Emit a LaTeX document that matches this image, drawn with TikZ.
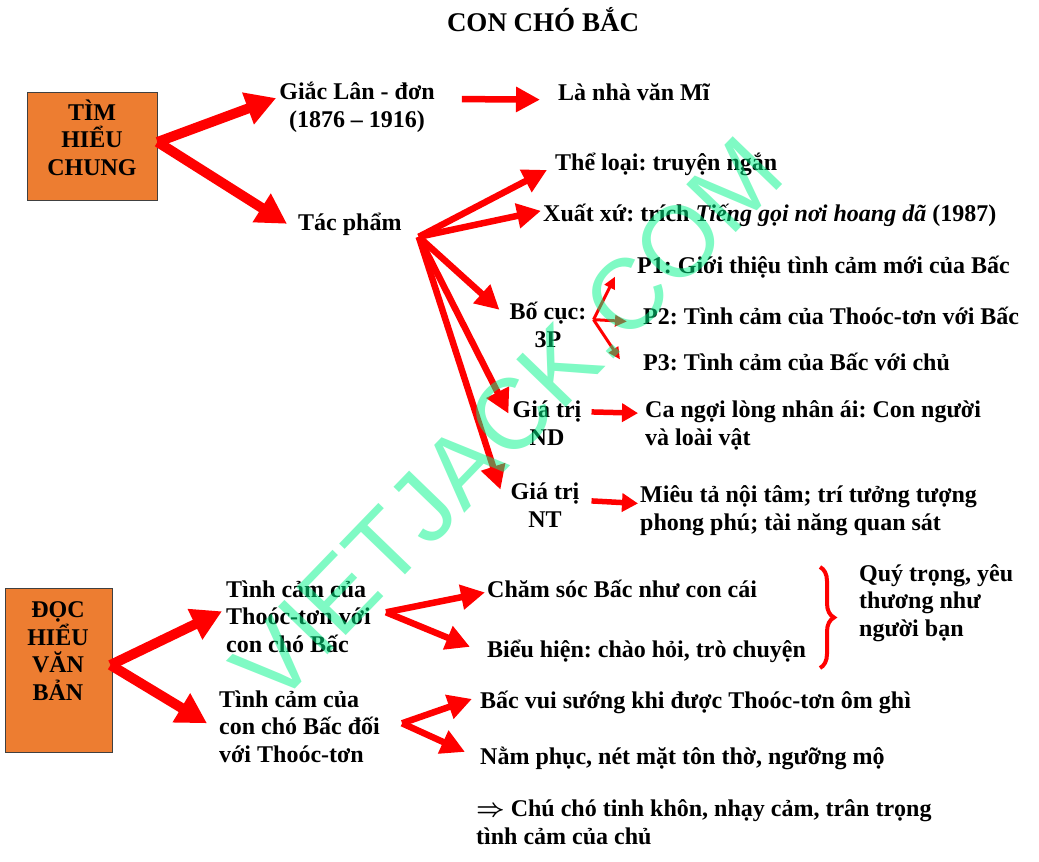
\documentclass[tikz,border=0pt]{standalone}
\usepackage{fontspec}
\setmainfont{Liberation Serif}
\setsansfont{Liberation Sans}
\usetikzlibrary{arrows.meta, decorations.pathreplacing}

\definecolor{boxorange}{RGB}{237,125,49}
\definecolor{arrred}{RGB}{255,0,0}
\definecolor{wmgreen}{RGB}{0,245,137}
\frenchspacing

\begin{document}
\begin{tikzpicture}[x=1pt, y=-1pt,
  txt/.style={inner sep=0pt, font=\bfseries\fontsize{24}{27.5}\selectfont},
  lt/.style={txt, anchor=base west, align=left},
  ct/.style={txt, anchor=base, align=center},
  sect/.style={rectangle, draw=black!75, line width=1pt, fill=boxorange},
  bigarr/.style={draw=arrred, line width=10pt, -{Triangle[length=30pt,width=32pt]}},
  midarr/.style={draw=arrred, line width=6.5pt, -{Triangle[length=24pt,width=24pt]}},
  shortarr/.style={draw=arrred, line width=5.5pt, -{Triangle[length=16pt,width=18pt]}},
  tinyarr/.style={draw=arrred, line width=3pt, -{Triangle[length=12pt,width=11pt]}}]
\useasboundingbox (0,0) rectangle (1039,862);

\node[ct, font=\bfseries\fontsize{27}{30}\selectfont] (title) at (543,31) {CON CHÓ BẮC};

% TÌM HIỂU CHUNG (multi-line nodes sit on their last baseline)
\node[sect, minimum width=130pt, minimum height=108pt] (tim) at (92,146) {};
\node[ct] (timtxt) at (92,175) {TÌM\\HIỂU\\CHUNG};
\node[ct] (giac) at (357,127) {Giắc Lân - đơn\\(1876 – 1916)};
\node[lt] (lanv) at (558,100) {Là nhà văn Mĩ};
\node[lt] (tacp) at (298,230) {Tác phẩm};
\node[lt] (theloai) at (555,170) {Thể loại: truyện ngắn};
\node[lt] (xuatxu) at (543,221) {Xuất xứ: trích \textit{Tiếng gọi nơi hoang dã} (1987)};
\node[ct] (bocuc) at (548,347) {Bố cục:\\3P};
\node[lt] (p1) at (637,273) {P1: Giới thiệu tình cảm mới của Bấc};
\node[lt] (p2) at (643,324) {P2: Tình cảm của Thoóc-tơn với Bấc};
\node[lt] (p3) at (643,370) {P3: Tình cảm của Bấc với chủ};
\node[ct] (gtnd) at (547,445) {Giá trị\\ND};
\node[lt] (cangoi) at (645,445) {Ca ngợi lòng nhân ái: Con người\\và loài vật};
\node[ct] (gtnt) at (545,527) {Giá trị\\NT};
\node[lt] (mieuta) at (640,530) {Miêu tả nội tâm; trí tưởng tượng\\phong phú; tài năng quan sát};

% arrows, upper part
\draw[bigarr] ([yshift=4pt]tim.east) -- ([xshift=-3pt,yshift=9pt]giac.west);
\draw[bigarr] ([yshift=4pt]tim.east) -- ([xshift=-11pt]tacp.west);
\draw[midarr] ([xshift=27pt,yshift=8pt]giac.east) -- ([xshift=-18pt,yshift=-8pt]lanv.west);
\coordinate (tpfan) at ([xshift=17pt,yshift=-13pt]tacp.east);
\draw[midarr] (tpfan) -- ([xshift=-8pt,yshift=-6pt]theloai.west);
\draw[midarr] (tpfan) -- ([xshift=-2pt,yshift=4pt]xuatxu.west);
\draw[midarr] (tpfan) -- ([xshift=-10pt,yshift=-8pt]bocuc.north west);
\draw[midarr] (tpfan) -- ([xshift=-4pt,yshift=-13pt]gtnd.north west);
\draw[midarr] (tpfan) -- ([xshift=-10pt,yshift=-7pt]gtnt.north west);
\coordinate (bcfan) at ([xshift=7pt,yshift=5pt]bocuc.east);
\draw[tinyarr] (bcfan) -- ([xshift=-22pt,yshift=-10pt]p1.west);
\draw[tinyarr] (bcfan) -- ([xshift=-16pt,yshift=-6pt]p2.west);
\draw[tinyarr] (bcfan) -- ([xshift=-23pt,yshift=2pt]p3.west);
\draw[shortarr] ([xshift=10pt,yshift=11pt]gtnd.east) -- ([xshift=-7pt,yshift=12pt]cangoi.west);
\draw[shortarr] ([xshift=12pt,yshift=4pt]gtnt.east) -- ([xshift=-2pt,yshift=7pt]mieuta.west);

% ĐỌC HIỂU VĂN BẢN
\node[sect, minimum width=107pt, minimum height=164pt] (doc) at (58.5,670) {};
\node[ct] (doctxt) at (58,700) {ĐỌC\\HIỂU\\VĂN\\BẢN};
\node[lt] (tc1) at (226,652) {Tình cảm của\\Thoóc-tơn với\\con chó Bấc};
\node[lt] (tc2) at (219,762) {Tình cảm của\\con chó Bấc đối\\với Thoóc-tơn};
\node[lt] (chamsoc) at (487,597) {Chăm sóc Bấc như con cái};
\node[lt] (bieuhien) at (487,657) {Biểu hiện: chào hỏi, trò chuyện};
\node[lt] (quy) at (859,636) {Quý trọng, yêu\\thương như\\người bạn};
\node[lt] (vui) at (480,708) {Bấc vui sướng khi được Thoóc-tơn ôm ghì};
\node[lt] (namphuc) at (480,764) {Nằm phục, nét mặt tôn thờ, ngưỡng mộ};
\node[lt] (ketluan) at (476,844) {{\boldmath$\Rightarrow$} Chú chó tinh khôn, nhạy cảm, trân trọng\\tình cảm của chủ};

% arrows, lower part
\draw[bigarr] ([xshift=-2pt,yshift=5pt]doc.east) -- ([xshift=-4pt,yshift=5pt]tc1.west);
\draw[bigarr] ([xshift=-2pt,yshift=5pt]doc.east) -- ([xshift=-12pt,yshift=3pt]tc2.west);
\coordinate (tc1fan) at ([xshift=15pt,yshift=4pt]tc1.east);
\draw[midarr] (tc1fan) -- ([xshift=-2pt,yshift=-4pt]chamsoc.west);
\draw[midarr] (tc1fan) -- ([xshift=-17pt,yshift=4pt]bieuhien.west);
\coordinate (tc2fan) at ([xshift=22pt,yshift=3pt]tc2.east);
\draw[midarr] (tc2fan) -- ([xshift=-8pt,yshift=3pt]vui.west);
\draw[midarr] (tc2fan) -- ([xshift=-15pt,yshift=6pt]namphuc.west);
\draw[arrred, line width=4pt, decorate, decoration={brace, amplitude=14pt}] (820,567) -- (820,668);

% watermark
\node[font=\sffamily\fontsize{100}{100}\selectfont, text=wmgreen, opacity=0.5, rotate=46] (wm) at (507,420) {VIETJACK.COM};
\end{tikzpicture}
\end{document}
